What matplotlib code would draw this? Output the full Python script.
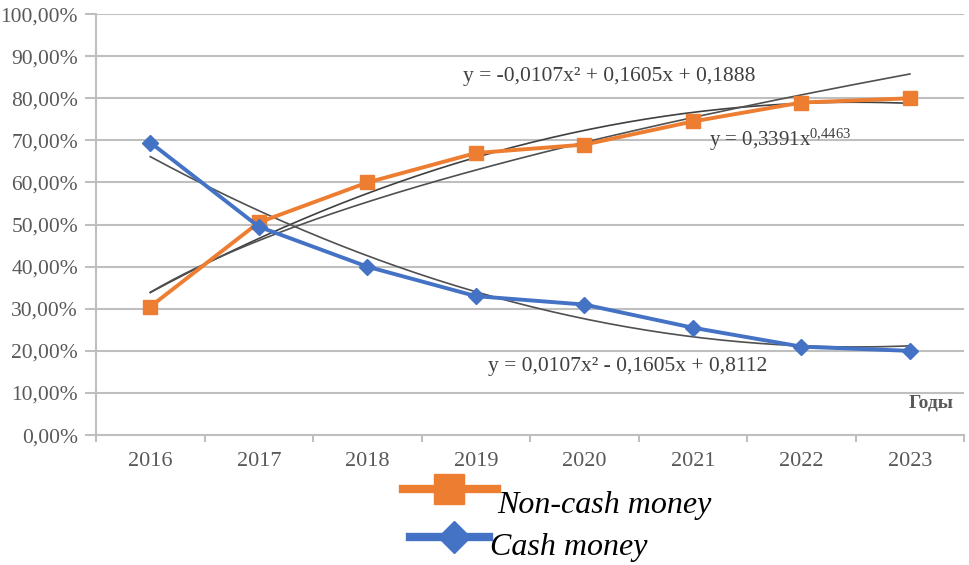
import numpy as np
import matplotlib.pyplot as plt
from matplotlib.lines import Line2D
from matplotlib.ticker import FuncFormatter

years = ['2016', '2017', '2018', '2019', '2020', '2021', '2022', '2023']
non_cash = [30.5, 50.5, 60.0, 67.0, 69.0, 74.5, 79.0, 80.0]
cash = [69.5, 49.5, 40.0, 33.0, 31.0, 25.5, 21.0, 20.0]

# trendline coefficients as printed on the chart (x = 1..8)
poly_noncash = [-0.0107, 0.1605, 0.1888]
poly_cash = [0.0107, -0.1605, 0.8112]
pow_a, pow_b = 0.3391, 0.4463

plt.rcParams['font.family'] = ['Liberation Serif', 'DejaVu Serif']
plt.rcParams['mathtext.fontset'] = 'custom'
plt.rcParams['mathtext.rm'] = 'Liberation Serif'
plt.rcParams['mathtext.it'] = 'Liberation Serif:italic'

orange = '#ED7D31'
blue = '#4472C4'
grid_c = '#BFBFBF'
text_c = '#595959'
eq_c = '#404040'

fig = plt.figure(figsize=(9.7, 5.65), dpi=100)
ax = fig.add_axes([0.099, 0.230, 0.895, 0.745])

x = np.arange(len(years))
xt = np.linspace(1, 8, 200)
ax.plot(xt - 1, np.polyval(poly_noncash, xt) * 100, color='#404040', lw=1.2, zorder=3)
ax.plot(xt - 1, pow_a * xt ** pow_b * 100, color='#505050', lw=1.2, zorder=3)
ax.plot(xt - 1, np.polyval(poly_cash, xt) * 100, color='#505050', lw=1.2, zorder=3)

ax.plot(x, non_cash, color=orange, lw=2.8, marker='s', markersize=10, zorder=4)
ax.plot(x, cash, color=blue, lw=2.8, marker='D', markersize=8, zorder=4)

ax.set_xlim(-0.5, 7.5)
ax.set_ylim(0, 100)
ax.set_yticks(np.arange(0, 101, 10))
ax.yaxis.set_major_formatter(FuncFormatter(lambda v, p: f'{v:.2f}%'.replace('.', ',')))
ax.set_xticks(x)
ax.set_xticklabels(years)
ax.set_xticks(np.arange(-0.5, 8, 1), minor=True)
ax.tick_params(axis='x', which='major', length=0, pad=12, labelsize=16, labelcolor=text_c)
ax.tick_params(axis='x', which='minor', length=5, color=grid_c, width=1.5)
ax.tick_params(axis='y', length=8, color=grid_c, width=1.5, labelsize=15.5, labelcolor=text_c, pad=5)
ax.grid(axis='y', color=grid_c, lw=1.5)
ax.set_axisbelow(True)
for s in ['top', 'right']:
    ax.spines[s].set_visible(False)
for s in ['left', 'bottom']:
    ax.spines[s].set_color(grid_c)
    ax.spines[s].set_linewidth(1.5)

ax.text(4.23, 85.3, 'y = -0,0107x² + 0,1605x + 0,1888', fontsize=15.5, color=eq_c, ha='center', va='center')
ax.text(5.15, 70.2, r'y = 0,3391x$^{\mathregular{0{,}4463}}$', fontsize=15, color=eq_c, ha='left', va='center')
ax.text(4.40, 16.4, 'y = 0,0107x² - 0,1605x + 0,8112', fontsize=15.5, color=eq_c, ha='center', va='center')
ax.text(7.2, 7.5, 'Годы', fontsize=14, color=text_c, ha='center', va='center', fontweight='bold')

# legend drawn below the plot, handles and labels placed by hand
W, H = 970, 565
leg_font = {'family': 'Liberation Serif', 'style': 'italic', 'size': 23}
fig.add_artist(Line2D([403 / W, 497 / W], [1 - 489 / H] * 2, color=orange, lw=6))
fig.add_artist(Line2D([449 / W], [1 - 489 / H], color=orange, marker='s', markersize=21, lw=0))
fig.text(497 / W, 1 - 505 / H, 'Non-cash money', va='center', ha='left', fontdict=leg_font)
fig.add_artist(Line2D([410 / W, 489 / W], [1 - 537 / H] * 2, color=blue, lw=6))
fig.add_artist(Line2D([454 / W], [1 - 537 / H], color=blue, marker='D', markersize=16, lw=0))
fig.text(490 / W, 1 - 548 / H, 'Cash money', va='center', ha='left', fontdict=leg_font)

fig.savefig('out.png', dpi=100)
